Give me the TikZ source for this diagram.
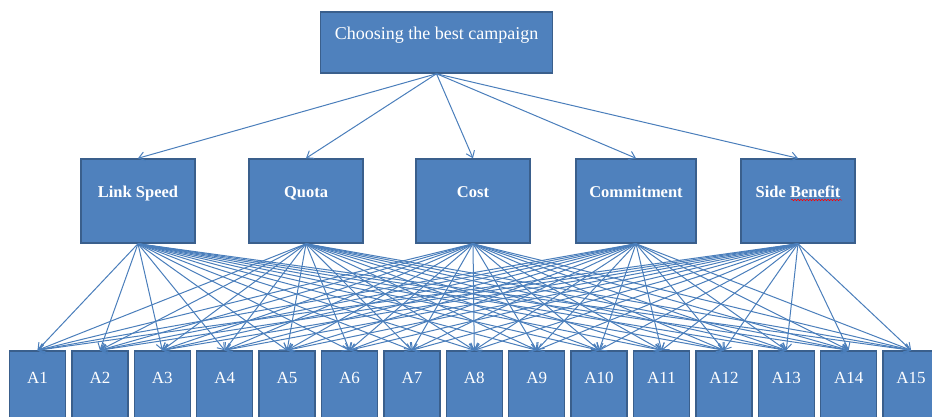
\documentclass[tikz,border=0pt]{standalone}
\usepackage{fontspec}
\setmainfont{Liberation Serif}
\usetikzlibrary{arrows.meta,decorations.pathmorphing}
\definecolor{boxblue}{HTML}{4F81BD}
\definecolor{boxedge}{HTML}{3A5F8C}
\definecolor{linkblue}{HTML}{4A7EBB}

\begin{document}
\begin{tikzpicture}[x=1pt,y=-1pt,
  box/.style={draw=boxedge, line width=1.5pt, fill=boxblue, text=white, inner sep=0pt},
  goal/.style={box, minimum width=232pt, text height=27pt, text depth=34pt, font=\fontsize{18}{20}\selectfont},
  crit/.style={box, text height=38pt, text depth=46pt, font=\bfseries\fontsize{16.5}{18}\selectfont},
  alt/.style={box, minimum width=56pt, text height=32pt, text depth=50pt, font=\fontsize{17}{19}\selectfont},
  link/.style={draw=linkblue, line width=1pt, -{Straight Barb[length=6pt,width=9pt]}}]
\useasboundingbox (0,0) rectangle (932,416);
% Goal
\node[goal] (goal) at (436.5,42.5) {Choosing the best campaign};
% Criteria
\node[crit, minimum width=114pt] (speed) at (138,201) {Link Speed};
\node[crit, minimum width=114pt] (quota) at (306,201) {Quota};
\node[crit, minimum width=114pt] (cost) at (473,201) {Cost};
\node[crit, minimum width=120pt] (commit) at (636,201) {Commitment};
\node[crit, minimum width=114pt] (side) at (798,201) {Side Benefit};
% spell-check squiggle under Benefit
\draw[red, line width=0.5pt, decorate, decoration={snake, amplitude=0.8pt, segment length=3pt}] (791,200) -- (842,200);
% Alternatives
\foreach \i in {1,...,15}
  \node[alt] (a\i) at ({37.5+(\i-1)*62.4},392) {A\i};
% Links goal -> criteria -> alternatives
\foreach \c in {speed,quota,cost,commit,side} {
  \draw[link] (goal.south) -- (\c.north);
  \foreach \i in {1,...,15}
    \draw[link] (\c.south) -- (a\i.north);
}
\end{tikzpicture}
\end{document}
